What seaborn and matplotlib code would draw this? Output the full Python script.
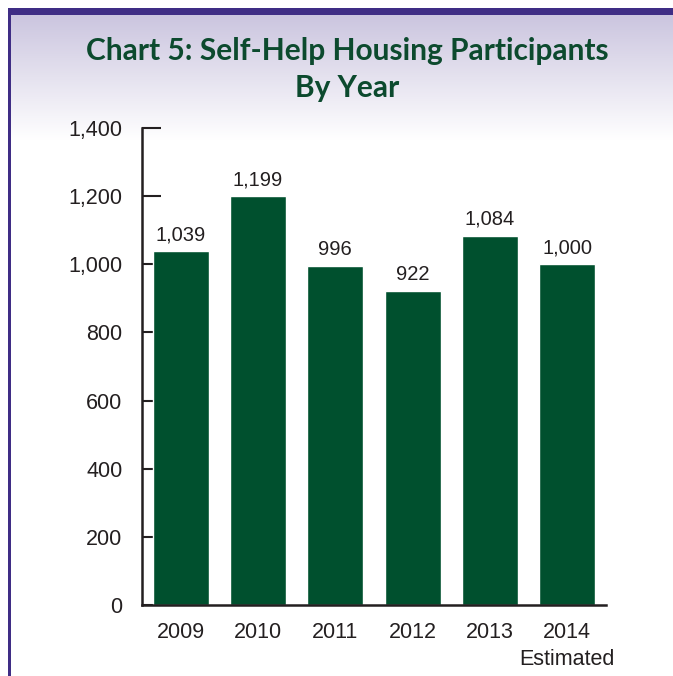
import numpy as np
import pandas as pd
import matplotlib.pyplot as plt
import seaborn as sns
from matplotlib.colors import LinearSegmentedColormap

# values
years = ["2009", "2010", "2011", "2012", "2013", "2014\nEstimated"]
participants = [1039, 1199, 996, 922, 1084, 1000]
yticks = [0, 200, 400, 600, 800, 1000, 1200, 1400]

BAR_GREEN = "#00502e"
TITLE_GREEN = "#0c4a2e"
PURPLE = "#3f2d85"
INK = "#231f20"

sns.set_style("white")
plt.rcParams["font.family"] = ["Liberation Sans", "DejaVu Sans"]

df = pd.DataFrame({"year": years, "participants": participants})

fig = plt.figure(figsize=(6.73, 6.76), dpi=100)

# lavender-to-white background panel
bg = fig.add_axes([0, 0, 1, 1], zorder=-2)
grad = np.linspace(0, 1, 256).reshape(-1, 1)
cmap = LinearSegmentedColormap.from_list("bg", ["#cbc5df", "#ffffff"])
top = 1 - 15 / 676
fade = 1 - 140 / 676
bg.imshow(grad, aspect="auto", cmap=cmap, extent=[11 / 673, 1, fade, top], zorder=0)
bg.fill_between([11 / 673, 1], 0, fade, color="white", zorder=0)
bg.set_xlim(0, 1)
bg.set_ylim(0, 1)
# purple frame on top and left
bg.add_patch(plt.Rectangle((8 / 673, 1 - 15 / 676), 1, 7 / 676, color=PURPLE, lw=0))
bg.add_patch(plt.Rectangle((8 / 673, 0), 3 / 673, 1 - 8 / 676, color=PURPLE, lw=0))
bg.axis("off")

ax = fig.add_axes([142 / 673, 1 - 605 / 676, (606 - 142) / 673, (605 - 128) / 676])
ax.patch.set_alpha(0)
sns.barplot(data=df, x="year", y="participants", color=BAR_GREEN, width=0.72,
            saturation=1, ax=ax)

ax.bar_label(ax.containers[0], labels=[f"{v:,}" for v in participants],
             padding=5, fontsize=14.5, color=INK)

ax.set_xlim(-0.5, len(years) - 0.5)
ax.set_ylim(0, 1400)
ax.set_yticks(yticks)
ax.set_yticklabels([f"{v:,}" for v in yticks], fontsize=15.5, color=INK)
ax.set_xticks(range(len(years)))
ax.set_xticklabels(years, fontsize=15.5, color=INK, linespacing=1.4)
ax.set_xticks(np.arange(-0.5, len(years)), minor=True)
ax.tick_params(axis="x", which="major", length=0, pad=12)
ax.tick_params(axis="x", which="minor", direction="in", length=8, width=1.5, color=INK)
ax.tick_params(axis="y", direction="in", length=14, width=1.5, color=INK, pad=14, left=True)
ax.set_xlabel("")
ax.set_ylabel("")
sns.despine(ax=ax)
for side in ["left", "bottom"]:
    ax.spines[side].set_color(INK)
    ax.spines[side].set_linewidth(1.8)

fig.text(347 / 673, 1 - 51 / 676, "Chart 5: Self-Help Housing Participants",
         ha="center", va="center", fontsize=21.5, fontweight="bold",
         color=TITLE_GREEN, family="Lato")
fig.text(347 / 673, 1 - 88 / 676, "By Year",
         ha="center", va="center", fontsize=21.5, fontweight="bold",
         color=TITLE_GREEN, family="Lato")

fig.savefig("out.png", dpi=100)
